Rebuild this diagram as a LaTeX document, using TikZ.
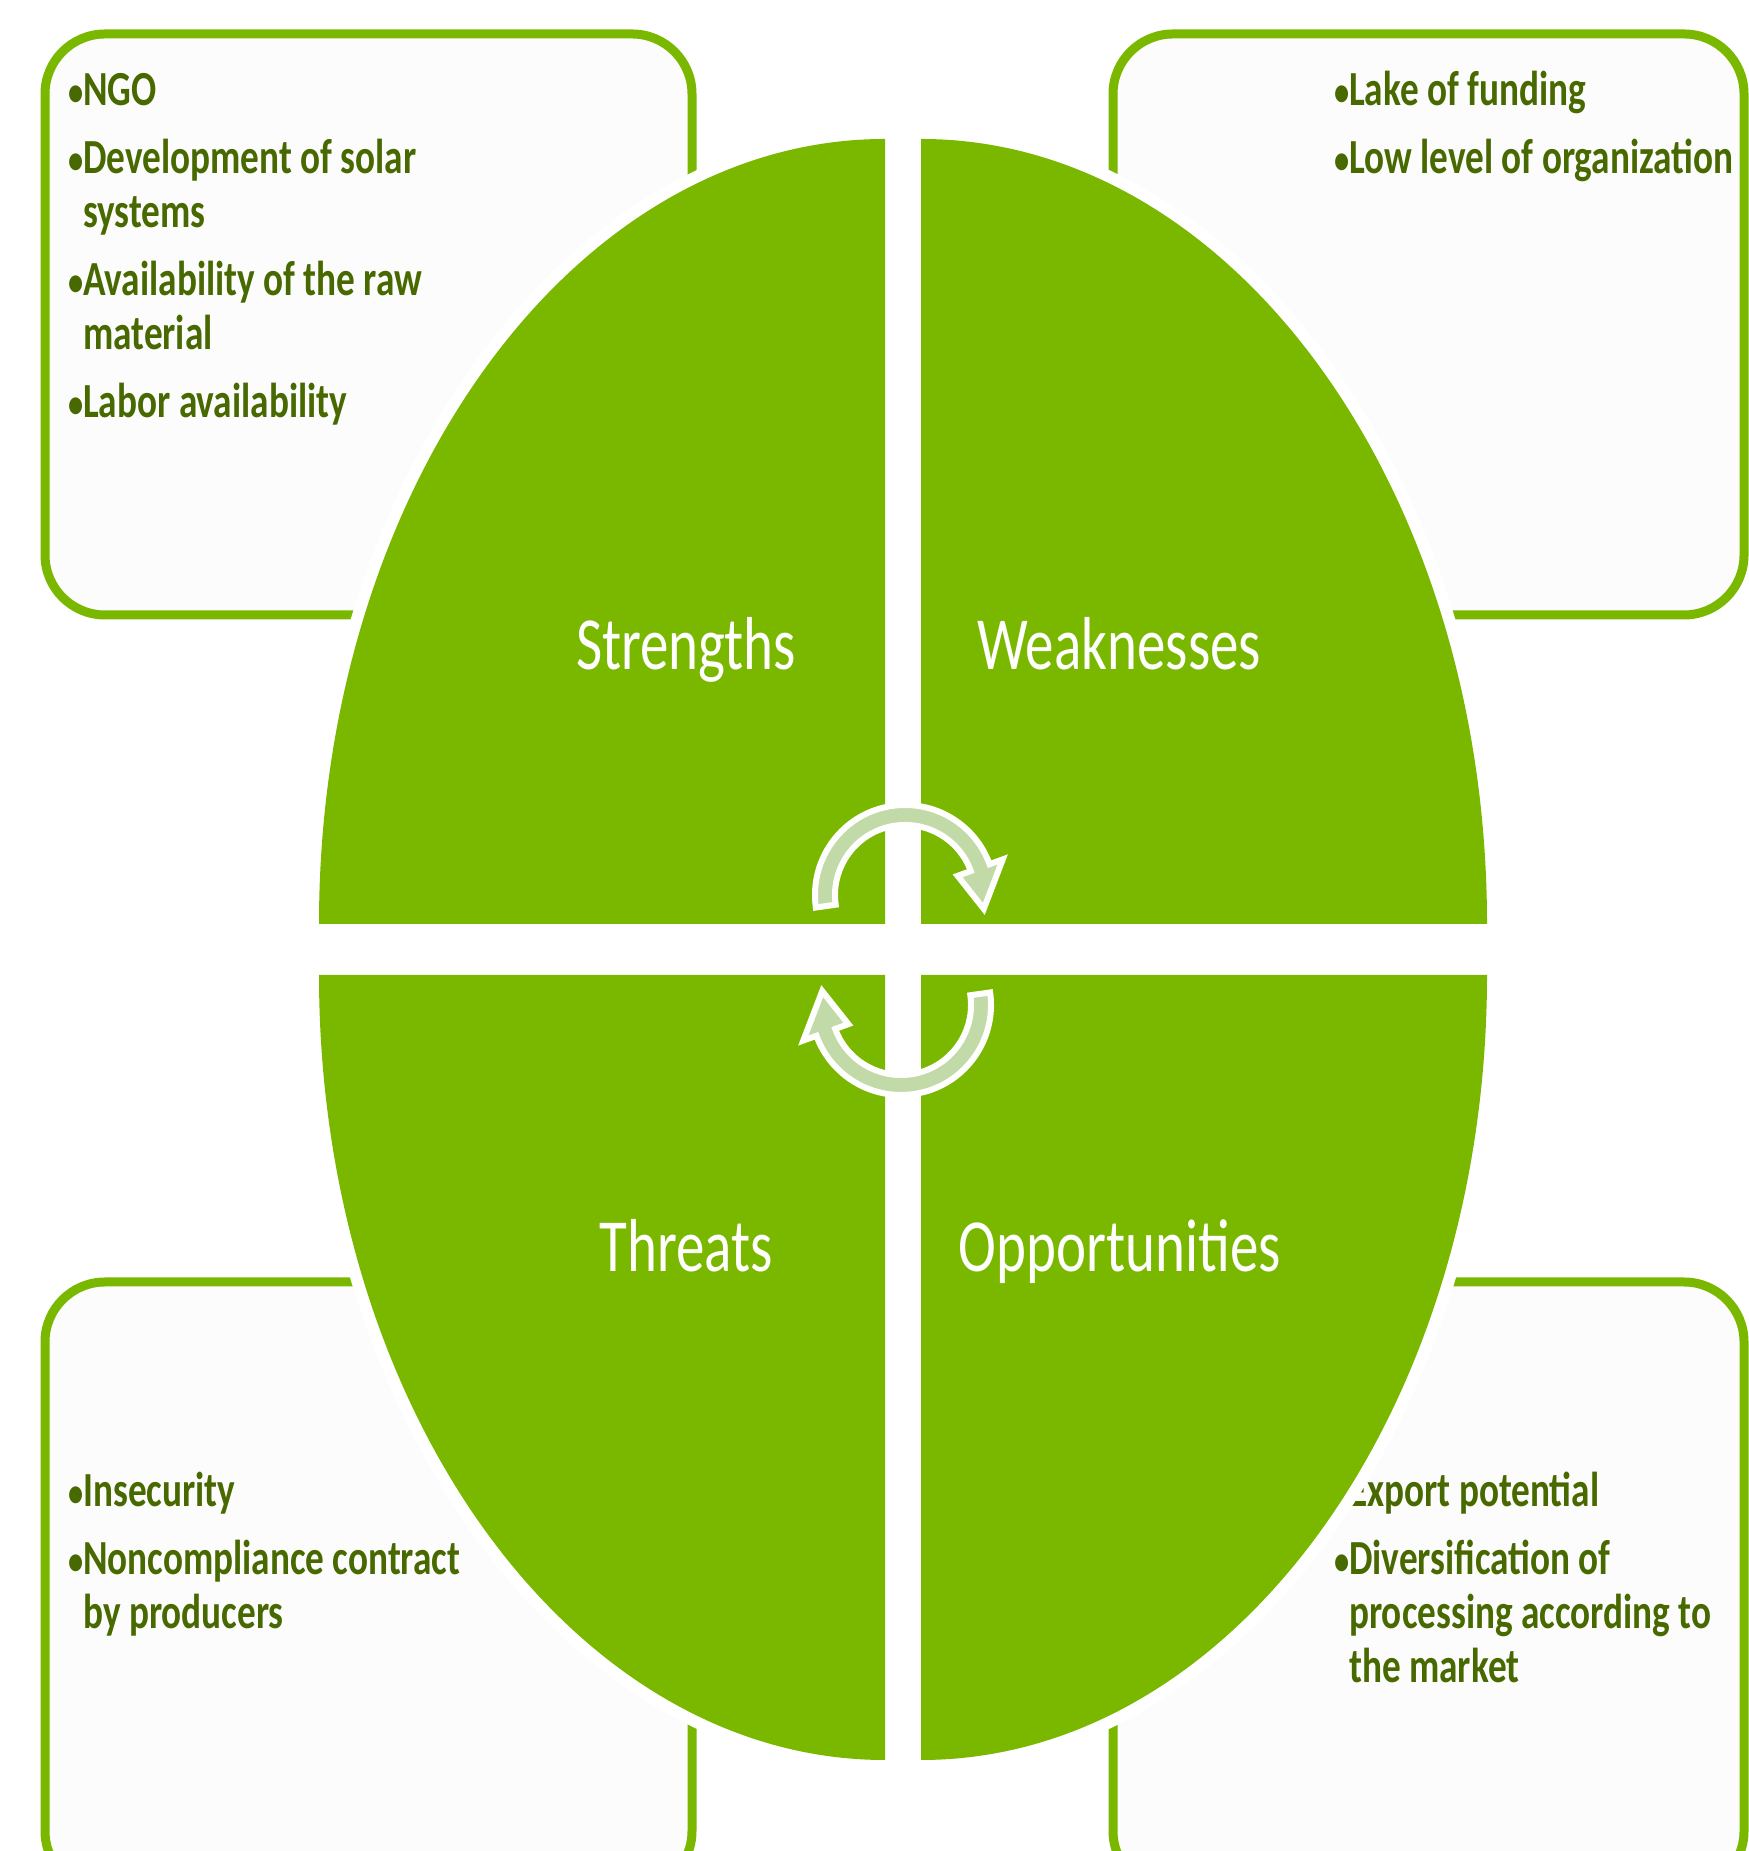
\documentclass[tikz,border=0pt]{standalone}
\usepackage{fontspec}
\newfontfamily\swotfont[FakeStretch=0.76]{Carlito}
\newcommand{\swotbullet}{\llap{{\fontsize{40}{40}\selectfont\textbullet}}}
\definecolor{swotGreen}{RGB}{122,184,0}
\definecolor{itemGreen}{RGB}{72,104,0}
\definecolor{cycleGreen}{RGB}{194,217,168}
\definecolor{boxWhite}{RGB}{252,252,252}

\begin{document}
\begin{tikzpicture}
[x=1pt,y=1pt,
  boxDecorate/.style={shape=rectangle,draw=swotGreen,line width=9,rounded corners=60,fill=boxWhite},%
  itemDecorate/.style={anchor=base west,inner sep=0pt,text=itemGreen,font=\swotfont\bfseries\fontsize{49}{54}\selectfont},%
  quadDecorate/.style={fill=swotGreen,preaction={draw=white,line width=24,line join=round}},%
  labelDecorate/.style={anchor=base,inner sep=0pt,text=white,font=\swotfont\fontsize{75}{90}\selectfont},%
  cycleDecorate/.style={fill=cycleGreen,draw=white,line width=6,line join=miter}]
\fill[white] (0,0) rectangle (1748,1851);
\useasboundingbox (0,0) rectangle (1748,1851);
%% boxes behind the quadrants
\foreach \nodename/\x/\y/\w/\h in {
  tlbox/368.5/1526.5/647/581, trbox/1428.5/1526.5/631/581,
  blbox/368.5/264.5/647/609, brbox/1428.5/264.5/631/609}
{
  \node (\nodename) at (\x,\y) [boxDecorate,minimum width=\w,minimum height=\h] {};
}
%% items in the boxes
\foreach \nodename/\x/\y/\txt in {
  ngo/83/1745/{\swotbullet NGO},
  solar/83/1677/{\swotbullet Development of solar},
  solarb/83/1623/{systems},
  raw/83/1555/{\swotbullet Availability of the raw},
  rawb/83/1501/{material},
  labor/83/1433/{\swotbullet Labor availability},
  funding/1349/1745/{\swotbullet Lake of funding},
  organization/1349/1677/{\swotbullet Low level of organization},
  insecurity/83/344/{\swotbullet Insecurity},
  contract/83/276/{\swotbullet Noncompliance contract},
  contractb/83/222/{by producers},
  export/1349/344/{\swotbullet Export potential},
  diversification/1349/276/{\swotbullet Diversification of},
  diversificationb/1349/222/{processing according to},
  diversificationc/1349/168/{the market}}
{
  \node (\nodename) at (\x,\y) [itemDecorate] {\txt};
}
%% quadrants of the ellipse
\foreach \cx/\cy/\sa in {885/927/90, 921/927/0, 885/876/180, 921/876/270}
{
  \path[quadDecorate] (\cx,\cy) -- ++(\sa:566 and 785)
    arc[start angle=\sa,delta angle=90,x radius=566,y radius=785] -- cycle;
}
%% quadrant labels
\foreach \nodename/\x/\y/\txt in {
  strengths/686/1181/Strengths, weaknesses/1119/1181/Weaknesses,
  threats/686/579/Threats, opportunities/1120/579/Opportunities}
{
  \node (\nodename) at (\x,\y) [labelDecorate] {\txt};
}
%% cycle arrows
\foreach \cx/\cy/\rot in {905/956/0, 901/846/180}
{
  \path[cycleDecorate,shift={(\cx,\cy)},rotate=\rot]
    (188:90) arc[start angle=188,end angle=20,radius=90] -- (20:104) -- (-10:80)
    -- (20:56) -- (20:70) arc[start angle=20,end angle=188,radius=70] -- cycle;
}
\end{tikzpicture}
\end{document}
